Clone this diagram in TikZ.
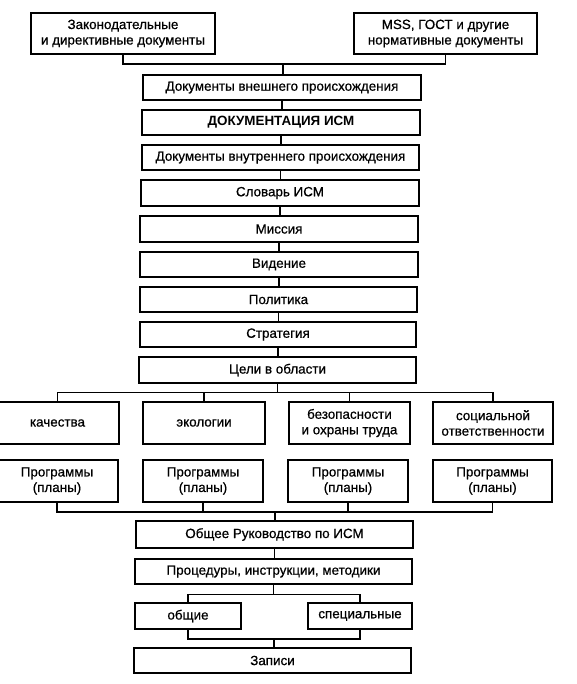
\documentclass[tikz,border=0pt]{standalone}
\usepackage{fontspec}
\setmainfont{Liberation Sans}[UprightFeatures={FakeBold=0.6}]
\begin{document}
\begin{tikzpicture}[x=1pt,y=-1pt,
  box/.style={draw, line width=1.7pt, rectangle, align=center, inner sep=1pt,
    font=\fontsize{13.4}{15.5}\selectfont},
  conn/.style={line width=1.5pt}]
\useasboundingbox (0,0) rectangle (576,684);
\fill[white] (0,0) rectangle (576,684);
% top
\node[box, minimum width=184pt, minimum height=41pt] (zak) at (123,33.5) {Законодательные\\и директивные документы};
\node[box, minimum width=183pt, minimum height=41pt] (mss) at (445.5,33.5) {MSS, ГОСТ и  другие\\нормативные документы};
% central column
\node[box, minimum width=278pt, minimum height=25pt] (ext) at (282,87.5) {Документы внешнего происхождения};
\node[box, minimum width=278pt, minimum height=25pt, font=\fontsize{13.4}{15.5}\selectfont\bfseries] (doc) at (281,122.5) {ДОКУМЕНТАЦИЯ ИСМ};
\node[box, minimum width=277pt, minimum height=25pt] (int) at (280.5,157.5) {Документы внутреннего происхождения};
\node[box, minimum width=278pt, minimum height=26pt] (slov) at (280,193) {Словарь ИСМ};
\node[box, minimum width=278pt, minimum height=26pt] (miss) at (279,229) {Миссия};
\node[box, minimum width=278pt, minimum height=25pt] (vid) at (279,264.5) {Видение};
\node[box, minimum width=277pt, minimum height=25pt] (pol) at (278.5,299.5) {Политика};
\node[box, minimum width=276pt, minimum height=25pt] (strat) at (278,334.5) {Стратегия};
\node[box, minimum width=277pt, minimum height=26pt] (celi) at (277.5,370) {Цели в области};
% areas
\node[box, minimum width=123pt, minimum height=42pt] (kach) at (57.5,423) {качества};
\node[box, minimum width=122pt, minimum height=42pt] (eco) at (204,423) {экологии};
\node[box, minimum width=121pt, minimum height=42pt] (bez) at (349.5,423) {безопасности\\и охраны труда};
\node[box, minimum width=120pt, minimum height=42pt] (soc) at (493,423) {социальной\\ответственности};
% programmes
\node[box, minimum width=122pt, minimum height=42pt] (p1) at (57,481) {Программы\\(планы)};
\node[box, minimum width=120pt, minimum height=42pt] (p2) at (203,481) {Программы\\(планы)};
\node[box, minimum width=120pt, minimum height=42pt] (p3) at (348,481) {Программы\\(планы)};
\node[box, minimum width=119pt, minimum height=42pt] (p4) at (492.5,481) {Программы\\(планы)};
% lower column
\node[box, minimum width=277pt, minimum height=27pt] (obsh) at (274.5,534.5) {Общее Руководство по ИСМ};
\node[box, minimum width=277pt, minimum height=25pt] (proc) at (273.5,571.5) {Процедуры, инструкции, методики};
\node[box, minimum width=106pt, minimum height=26pt] (gen) at (188,616) {общие};
\node[box, minimum width=104pt, minimum height=26pt] (spec) at (360,616) {специальные};
\node[box, minimum width=277pt, minimum height=25pt] (zap) at (272.5,660.5) {Записи};
% connectors
\coordinate (b1) at (283,64);
\draw[conn] (zak.south) |- (b1) -| (mss.south);
\draw[conn] (b1) -- (b1 |- ext.north);
\foreach \a/\b in {ext/doc,doc/int,int/slov,slov/miss,miss/vid,vid/pol,pol/strat,strat/celi}
  \draw[conn] (\a.south) -- (\a.south |- \b.north);
\coordinate (b2) at (278,392.6);
\draw[conn] (celi.south) -- (celi.south |- b2);
\draw[conn] (kach.north) |- (b2) -| (soc.north);
\draw[conn] (eco.north) -- (eco.north |- b2);
\draw[conn] (bez.north) -- (bez.north |- b2);
\coordinate (b3) at (275,512);
\draw[conn] (p1.south) |- (b3) -| (p4.south);
\draw[conn] (p2.south) -- (p2.south |- b3);
\draw[conn] (p3.south) -- (p3.south |- b3);
\draw[conn] (b3) -- (b3 |- obsh.north);
\draw[conn] (obsh.south) -- (obsh.south |- proc.north);
\coordinate (b4) at (274,594.6);
\draw[conn] (proc.south) -- (proc.south |- b4);
\draw[conn] (gen.north) |- (b4) -| (spec.north);
\coordinate (b5) at (274,639);
\draw[conn] (gen.south) |- (b5) -| (spec.south);
\draw[conn] (b5) -- (b5 |- zap.north);
\end{tikzpicture}
\end{document}
